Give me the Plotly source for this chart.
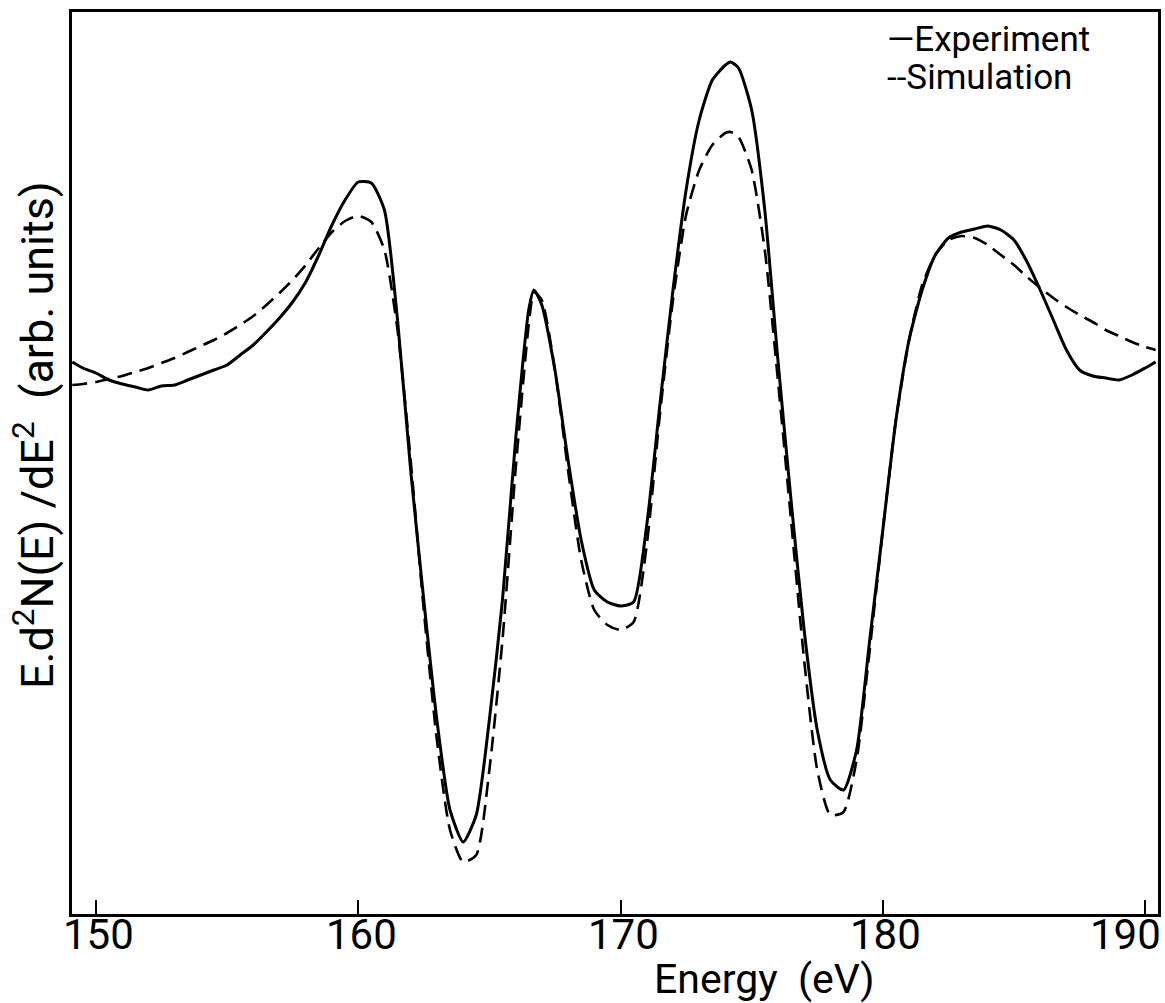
import plotly.graph_objects as go

energy = [149.1, 149.5, 150, 150.5, 151, 151.5, 152, 152.5, 153, 153.5, 154, 154.5, 155, 155.5,
          156, 156.5, 157, 157.5, 158, 158.5, 159, 159.5, 160, 160.5, 161, 161.5, 162, 162.5,
          163, 163.5, 164, 164.5, 165, 165.5, 166, 166.5, 166.7, 167, 167.5, 168, 168.5, 169,
          169.5, 170, 170.5, 171, 171.5, 172, 172.5, 173, 173.5, 174, 174.2, 174.5, 175, 175.5,
          176, 176.5, 177, 177.5, 178, 178.5, 179, 179.5, 180, 180.5, 181, 181.5, 182, 182.5,
          183, 183.5, 184, 184.5, 185, 185.5, 186, 186.5, 187, 187.5, 188, 188.5, 189, 189.5,
          190, 190.4]

experiment = [2.38, 2.32, 2.27, 2.20, 2.16, 2.13, 2.10, 2.14, 2.15, 2.20, 2.25, 2.30, 2.35, 2.45,
              2.55, 2.68, 2.82, 2.98, 3.18, 3.45, 3.75, 4.00, 4.18, 4.17, 3.90, 2.80, 1.30, 0.00,
              -1.20, -2.10, -2.42, -2.15, -1.20, 0.00, 1.60, 2.90, 3.10, 2.95, 2.30, 1.40, 0.60, 0.10,
              -0.02, -0.06, -0.02, 0.75, 1.95, 3.10, 4.10, 4.80, 5.20, 5.35, 5.38, 5.32, 4.90, 3.90,
              2.40, 1.00, -0.30, -1.30, -1.80, -1.90, -1.50, -0.40, 0.70, 1.80, 2.60, 3.10, 3.45, 3.62,
              3.68, 3.71, 3.74, 3.70, 3.60, 3.38, 3.10, 2.80, 2.50, 2.30, 2.24, 2.22, 2.20, 2.25,
              2.32, 2.38]

simulation = [2.15, 2.16, 2.18, 2.21, 2.24, 2.28, 2.32, 2.37, 2.42, 2.48, 2.54, 2.60, 2.67, 2.75,
              2.84, 2.95, 3.07, 3.20, 3.35, 3.52, 3.68, 3.79, 3.84, 3.78, 3.50, 2.70, 1.40, -0.10,
              -1.40, -2.30, -2.62, -2.55, -1.70, -0.40, 1.30, 2.75, 3.08, 3.00, 2.30, 1.30, 0.40, -0.10,
              -0.25, -0.30, -0.22, 0.55, 1.85, 3.00, 3.85, 4.30, 4.55, 4.67, 4.68, 4.63, 4.30, 3.50,
              2.20, 0.80, -0.60, -1.70, -2.15, -2.12, -1.60, -0.50, 0.70, 1.80, 2.60, 3.15, 3.45, 3.60,
              3.64, 3.62, 3.55, 3.45, 3.35, 3.23, 3.12, 3.02, 2.93, 2.85, 2.78, 2.70, 2.64, 2.58,
              2.53, 2.50]

tick_values = [150, 160, 170, 180, 190]
tick_labels = ["150", "160", "170", "180", "190"]

FONT = "Roboto, DejaVu Sans, sans-serif"

fig = go.Figure()
fig.add_trace(go.Scatter(x=energy, y=simulation, mode="lines", name="Simulation",
                         line=dict(color="black", width=2.6, dash="15px,8px", shape="spline", smoothing=0.6)))
fig.add_trace(go.Scatter(x=energy, y=experiment, mode="lines", name="Experiment",
                         line=dict(color="black", width=3, shape="spline", smoothing=0.6)))

fig.update_layout(
    width=1165, height=1003,
    margin=dict(l=72, r=4, t=12, b=89),
    paper_bgcolor="white", plot_bgcolor="white",
    showlegend=False,
    font=dict(family=FONT, color="black"),
    xaxis=dict(range=[149.09, 190.49], showline=True, linecolor="black", linewidth=2.5, mirror=True,
               tickvals=tick_values, showticklabels=False, ticks="inside", ticklen=14,
               tickwidth=2, tickcolor="black", showgrid=False, zeroline=False),
    yaxis=dict(range=[-3.14, 5.88], showline=True, linecolor="black", linewidth=2.5, mirror=True,
               showticklabels=False, ticks="", showgrid=False, zeroline=False),
)

for v, t in zip(tick_values, tick_labels):
    fig.add_annotation(x=v, y=0, xref="x", yref="paper", text=t, showarrow=False,
                       xanchor="center", yanchor="top", yshift=6,
                       xshift=(-20 if v == 190 else 3),
                       font=dict(size=42, family=FONT))

fig.add_annotation(x=0.638, y=0, xref="paper", yref="paper", text="Energy  (eV)", showarrow=False,
                   xanchor="center", yanchor="top", yshift=-39, font=dict(size=41, family=FONT))

fig.add_annotation(x=0, y=0.531, xref="paper", yref="paper",
                   text="E.d<sup>2</sup>N(E) /dE<sup>2</sup>  (arb. units)", showarrow=False,
                   textangle=-90, xanchor="center", yanchor="middle", xshift=-38,
                   font=dict(size=45, family=FONT))

fig.add_annotation(x=0.749, y=0.969, xref="paper", yref="paper", text="\u2014Experiment",
                   showarrow=False, xanchor="left", yanchor="middle", font=dict(size=35, family=FONT))
fig.add_annotation(x=0.749, y=0.927, xref="paper", yref="paper", text="--Simulation",
                   showarrow=False, xanchor="left", yanchor="middle", font=dict(size=35, family=FONT))

fig.write_html("out.html")
